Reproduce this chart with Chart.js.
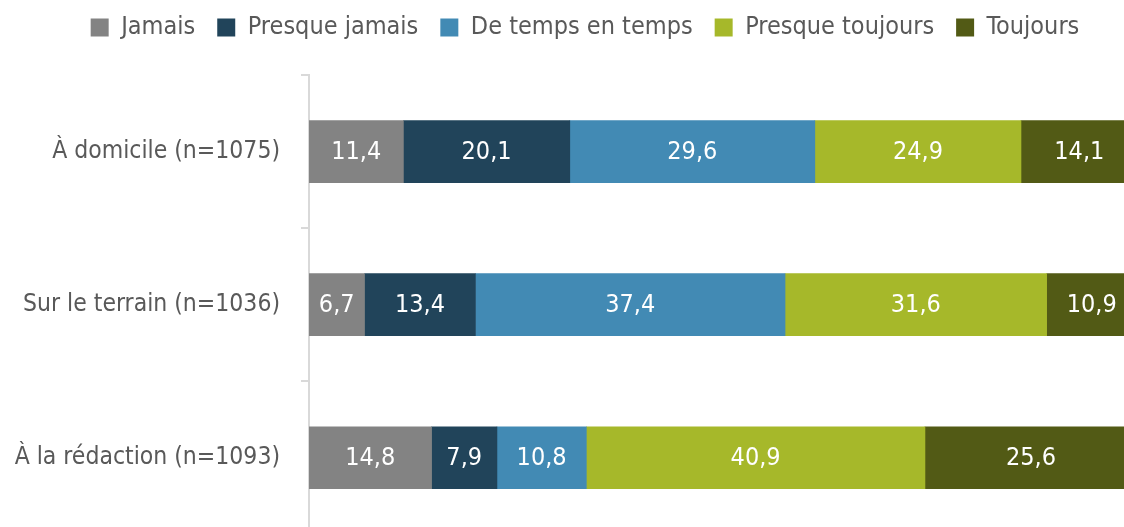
<!DOCTYPE html>
<html lang="fr">
<head>
<meta charset="utf-8">
<title>Fréquence</title>
<script src="https://cdn.jsdelivr.net/npm/chart.js@4.4.1/dist/chart.umd.min.js"></script>
<style>
    html, body { margin: 0; padding: 0; overflow: hidden; background: #fff; }
    #chart { display: block; margin-top: -7px; }
</style>
</head>
<body>
<canvas id="chart" width="1170" height="577"></canvas>
<script>
const categories = ['À domicile (n=1075)', 'Sur le terrain (n=1036)', 'À la rédaction (n=1093)'];
const seriesNames = ['Jamais', 'Presque jamais', 'De temps en temps', 'Presque toujours', 'Toujours'];
const jamais = [11.4, 6.7, 14.8];
const presqueJamais = [20.1, 13.4, 7.9];
const deTempsEnTemps = [29.6, 37.4, 10.8];
const presqueToujours = [24.9, 31.6, 40.9];
const toujours = [14.1, 10.9, 25.6];
const colors = ['#838383', '#21445a', '#428ab4', '#a6b82a', '#525a15'];

const FONT = '"Liberation Sans Narrow", "DejaVu Sans Condensed", "Noto Sans", sans-serif';

// labels inside each segment, decimal comma
const segmentLabels = {
    id: 'segmentLabels',
    afterDatasetsDraw(chart) {
        const ctx = chart.ctx;
        ctx.save();
        ctx.fillStyle = '#ffffff';
        ctx.font = '25px ' + FONT;
        ctx.textAlign = 'center';
        ctx.textBaseline = 'middle';
        chart.data.datasets.forEach((ds, i) => {
            chart.getDatasetMeta(i).data.forEach((bar, j) => {
                const cx = (bar.x + bar.base) / 2;
                ctx.fillText(ds.data[j].toFixed(1).replace('.', ','), cx, bar.y + 1);
            });
        });
        ctx.restore();
    }
};

const seriesValues = [jamais, presqueJamais, deTempsEnTemps, presqueToujours, toujours];

new Chart(document.getElementById('chart'), {
    type: 'bar',
    data: {
        labels: categories,
        datasets: seriesNames.map((name, i) => ({
            label: name,
            data: seriesValues[i],
            backgroundColor: colors[i],
            borderWidth: 0,
            barThickness: 62
        }))
    },
    options: {
        indexAxis: 'y',
        responsive: false,
        animation: false,
        layout: { padding: 0 },
        scales: {
            x: {
                stacked: true,
                position: 'top',
                min: 0,
                max: 104,
                // invisible axis, only used as spacer under the legend
                afterFit(scale) { scale.height = 25; },
                border: { display: false },
                grid: { display: false },
                ticks: { display: false }
            },
            y: {
                stacked: true,
                afterFit(scale) { scale.width = 309; },
                border: { display: true, color: '#d9d9d9', width: 2 },
                grid: {
                    drawOnChartArea: false,
                    drawTicks: true,
                    tickLength: 8,
                    color: '#d9d9d9',
                    lineWidth: 2
                },
                ticks: {
                    color: '#595959',
                    padding: 21,
                    font: { family: FONT, size: 24.5 }
                }
            }
        },
        plugins: {
            legend: {
                position: 'top',
                labels: {
                    color: '#595959',
                    boxWidth: 18,
                    boxHeight: 18,
                    padding: 22,
                    font: { family: FONT, size: 25 }
                }
            },
            tooltip: { enabled: false }
        }
    },
    plugins: [segmentLabels]
});
</script>
</body>
</html>
